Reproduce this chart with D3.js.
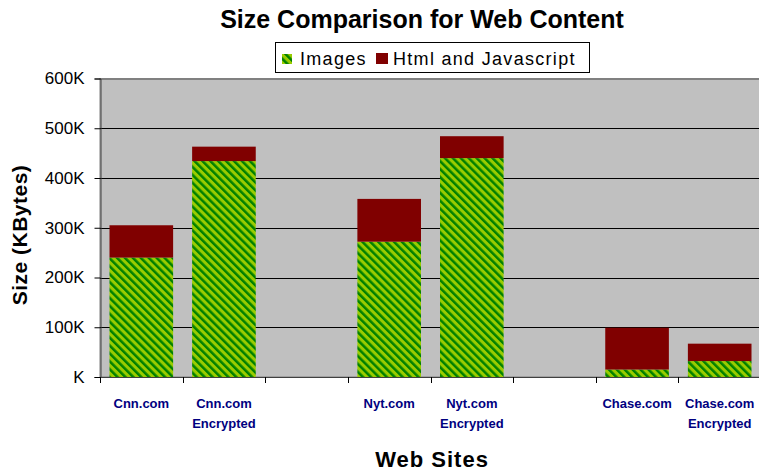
<!DOCTYPE html>
<html><head><meta charset="utf-8">
<script src="https://cdn.jsdelivr.net/npm/d3@7"></script>
<style>html,body{margin:0;padding:0;background:#fff;overflow:hidden}</style>
</head><body>
<svg id="chart" width="759" height="473"></svg>
<script>
const categoryLine1 = ["Cnn.com", "Cnn.com", "", "Nyt.com", "Nyt.com", "", "Chase.com", "Chase.com"];
const categoryLine2 = ["", "Encrypted", "", "", "Encrypted", "", "", "Encrypted"];
const imagesK = [240, 434, null, 272, 440, null, 15, 32];
const htmlJsK = [65, 29, null, 86, 44, null, 84, 35];
const yTicksK = [0, 100, 200, 300, 400, 500, 600];
const seriesNames = ["Images", "Html and Javascript"];

(function () {
const svg = d3.select("#chart");
const FONT = "'Liberation Sans', Arial, sans-serif";
const pLeft = 100, pRight = 761, pTop = 78.5, pBottom = 377;

const defs = svg.append("defs");
const P = 5.6;
const pat = defs.append("pattern").attr("id", "stripes")
  .attr("patternUnits", "userSpaceOnUse").attr("width", P).attr("height", P)
  .attr("patternTransform", "rotate(-45)");
pat.append("rect").attr("width", P).attr("height", P).attr("fill", "#99CC00");
pat.append("rect").attr("width", 2.5).attr("height", P).attr("fill", "#008000");

const idx = d3.range(categoryLine1.length);
const x = d3.scaleBand().domain(idx).range([pLeft, pRight]).paddingInner(0.23).paddingOuter(0.115);
const y = d3.scaleLinear().domain([0, 600]).range([pBottom, pTop]);

// plot area
svg.append("rect").attr("x", pLeft).attr("y", pTop).attr("width", pRight - pLeft).attr("height", pBottom - pTop)
  .attr("fill", "#C0C0C0").attr("stroke", "#808080").attr("stroke-width", 1);

// gridlines
svg.append("g").selectAll("line").data(yTicksK.filter(d => d > 0)).join("line")
  .attr("x1", pLeft).attr("x2", pRight)
  .attr("y1", d => Math.round(y(d)) + 0.5).attr("y2", d => Math.round(y(d)) + 0.5)
  .attr("stroke", d => d === 600 ? "#808080" : "#000").attr("stroke-width", 1);

// bars
const data = idx.map(i => ({i, img: imagesK[i], html: htmlJsK[i]})).filter(d => d.img != null);
const gb = svg.append("g");
gb.selectAll("rect.img").data(data).join("rect").attr("class", "img")
  .attr("x", d => x(d.i)).attr("width", x.bandwidth())
  .attr("y", d => y(d.img)).attr("height", d => y(0) - y(d.img))
  .attr("fill", "url(#stripes)");
gb.selectAll("rect.html").data(data).join("rect").attr("class", "html")
  .attr("x", d => x(d.i)).attr("width", x.bandwidth())
  .attr("y", d => y(d.img + d.html)).attr("height", d => y(d.img) - y(d.img + d.html))
  .attr("fill", "#800000");

// y axis
const yAxis = d3.axisLeft(y).tickValues(yTicksK).tickSize(6).tickPadding(10)
  .tickFormat(d => d === 0 ? "K" : d + "K");
const gy = svg.append("g").attr("transform", `translate(${pLeft + 0.5},0)`).call(yAxis);
gy.select(".domain").attr("stroke", "#404040");
gy.selectAll(".tick line").attr("stroke", "#000");
gy.selectAll(".tick text").attr("font-family", FONT).attr("font-size", 17).attr("fill", "#000");

// x axis line + ticks at slot boundaries
const step = x.step();
svg.append("line").attr("x1", pLeft).attr("x2", pRight).attr("y1", pBottom + 0.5).attr("y2", pBottom + 0.5)
  .attr("stroke", "#404040");
svg.append("g").selectAll("line").data(d3.range(categoryLine1.length + 1)).join("line")
  .attr("x1", d => Math.round(pLeft + d * step) + 0.5).attr("x2", d => Math.round(pLeft + d * step) + 0.5)
  .attr("y1", pBottom).attr("y2", pBottom + 6).attr("stroke", "#000");

// category labels
const gl = svg.append("g").attr("font-family", FONT).attr("font-size", 13).attr("font-weight", "bold")
  .attr("fill", "#000080").attr("text-anchor", "middle");
gl.selectAll("text.l1").data(idx).join("text").attr("class", "l1")
  .attr("x", d => x(d) + x.bandwidth() / 2).attr("y", 408).text(d => categoryLine1[d]);
gl.selectAll("text.l2").data(idx).join("text").attr("class", "l2")
  .attr("x", d => x(d) + x.bandwidth() / 2).attr("y", 428).text(d => categoryLine2[d]);

// titles
svg.append("text").attr("x", 422).attr("y", 28).attr("text-anchor", "middle")
  .attr("font-family", FONT).attr("font-size", 25).attr("font-weight", "bold").text("Size Comparison for Web Content");
svg.append("text").attr("x", 432).attr("y", 467).attr("text-anchor", "middle")
  .attr("font-family", FONT).attr("font-size", 22).attr("font-weight", "bold").attr("letter-spacing", 1).text("Web Sites");
svg.append("text").attr("transform", "translate(27,235) rotate(-90)").attr("text-anchor", "middle")
  .attr("font-family", FONT).attr("font-size", 21).attr("font-weight", "bold").attr("letter-spacing", 0.5).text("Size (KBytes)");

// legend
const lg = svg.append("g");
lg.append("rect").attr("x", 275.5).attr("y", 42.5).attr("width", 314).attr("height", 30)
  .attr("fill", "#fff").attr("stroke", "#000");
lg.append("rect").attr("x", 282).attr("y", 54).attr("width", 10).attr("height", 10).attr("fill", "url(#stripes)");
lg.append("rect").attr("x", 376).attr("y", 53).attr("width", 12).attr("height", 11).attr("fill", "#800000");
lg.append("text").attr("x", 300).attr("y", 64.5).attr("font-family", FONT).attr("font-size", 18)
  .attr("letter-spacing", 1.3).text(seriesNames[0]);
lg.append("text").attr("x", 393).attr("y", 64.5).attr("font-family", FONT).attr("font-size", 18)
  .attr("letter-spacing", 1.3).text(seriesNames[1]);
})();
</script>
</body></html>
